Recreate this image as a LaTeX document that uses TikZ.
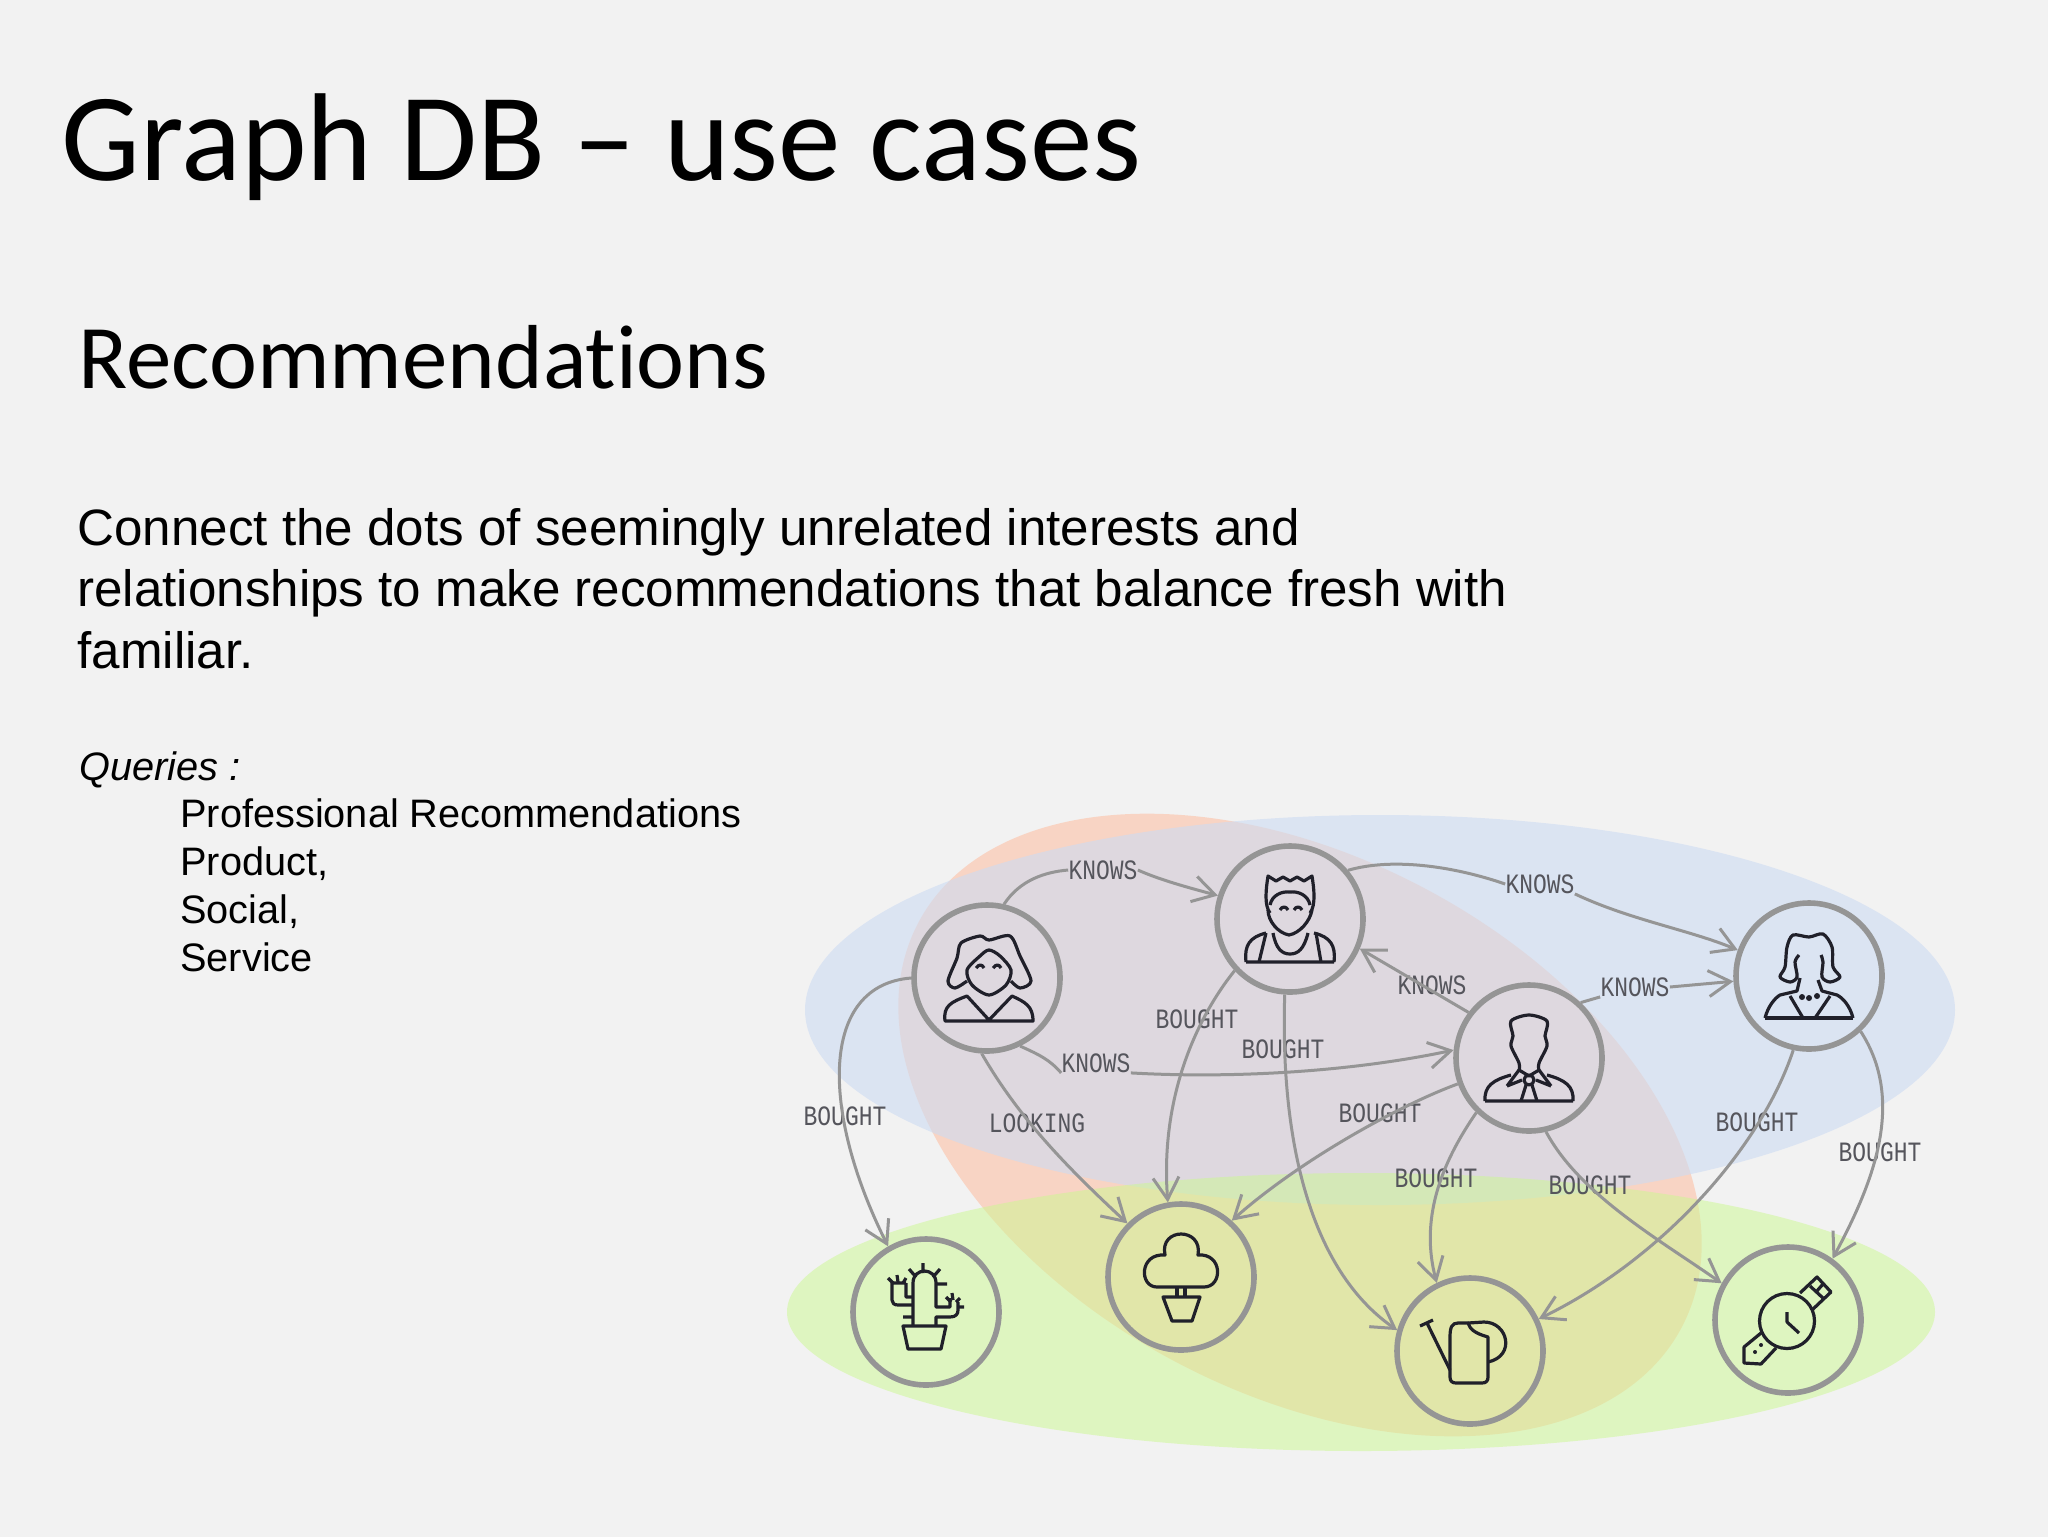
\documentclass[tikz,border=0pt]{standalone}
\usepackage{fontspec}
\setmainfont{Liberation Sans}
\newfontfamily\slidefont[Ligatures=NoCommon]{Carlito}
\newfontfamily\edgefont[FakeStretch=.82]{Liberation Mono}
\usetikzlibrary{arrows.meta}

\definecolor{slidebg}{HTML}{F2F2F2}
\definecolor{blobblue}{HTML}{CDDBF2}
\definecolor{bloborange}{HTML}{FFB898}
\definecolor{blobgreen}{HTML}{CCF890}
\definecolor{edgegray}{HTML}{959595}
\definecolor{labelgray}{HTML}{55555C}
\definecolor{icondark}{HTML}{20202A}

\tikzset{
  >={Straight Barb[length=11pt,width=13pt,line width=1.5pt]},
  item/.style={circle,draw=edgegray,line width=2.8pt,minimum size=73pt,inner sep=0pt},
  rel/.style={draw=edgegray,line width=1.5pt},
  rellabel/.style={font=\edgefont\fontsize{14}{14}\selectfont,text=labelgray,inner sep=0pt},
  icon/.style={draw=icondark,line width=1.6pt,line join=round}
}

\begin{document}
\begin{tikzpicture}[x=.5pt,y=-.5pt]

  \useasboundingbox (0,0) rectangle (2048,1536);
  \fill[slidebg] (-2,-2) rectangle (2050,1538);

  % texts
  \node[anchor=base west,inner sep=0pt,font=\slidefont\fontsize{62.5}{62.5}\selectfont] (title) at (61,180) {Graph DB – use cases};
  \node[anchor=base west,inner sep=0pt,font=\slidefont\fontsize{45.45}{45.45}\selectfont] (subtitle) at (78,388) {Recommendations};
  \node[anchor=north west,inner sep=0pt,align=left,font=\fontsize{25.57}{30.7}\selectfont] (intro) at (77,508)
    {Connect the dots of seemingly unrelated interests and\\
     relationships to make recommendations that balance fresh with\\
     familiar.};
  \node[anchor=base west,inner sep=0pt,font=\itshape\fontsize{19.86}{24}\selectfont] (queries) at (79,780) {Queries :};
  \node[anchor=north west,inner sep=0pt,align=left,font=\fontsize{19.86}{24}\selectfont] (kinds) at (180,798)
    {Professional Recommendations\\ Product,\\ Social,\\ Service};

  % the three sets
  \fill[opacity=.5,bloborange,shift={(1300,1125)},rotate=-28] (0,0) ellipse [x radius=432,y radius=267.5];
  \fill[opacity=.6,blobblue] (1380,1010) ellipse [x radius=575,y radius=195];
  \fill[opacity=.5,blobgreen] (1361,1312) ellipse [x radius=574,y radius=139];

  % people and products
  \node[item] (woman) at (987,978) {};
  \node[item] (man) at (1290,919) {};
  \node[item] (suit) at (1529,1058) {};
  \node[item] (lady) at (1809,976) {};
  \node[item] (cactus) at (926,1312) {};
  \node[item] (tree) at (1181,1277) {};
  \node[item] (can) at (1470,1351) {};
  \node[item] (watch) at (1788,1320) {};

  % labels
  \node[rellabel] (knowsA) at (1103,870) {KNOWS};
  \node[rellabel] (knowsB) at (1540,884) {KNOWS};
  \node[rellabel] (knowsC) at (1432,985) {KNOWS};
  \node[rellabel] (knowsD) at (1635,987) {KNOWS};
  \node[rellabel] (knowsE) at (1096,1063) {KNOWS};
  \node[rellabel] (boughtA) at (1197,1019) {BOUGHT};
  \node[rellabel] (boughtB) at (1283,1049) {BOUGHT};
  \node[rellabel] (boughtC) at (1380,1113) {BOUGHT};
  \node[rellabel] (boughtD) at (845,1116) {BOUGHT};
  \node[rellabel] (looking) at (1037,1123) {LOOKING};
  \node[rellabel] (boughtE) at (1436,1178) {BOUGHT};
  \node[rellabel] (boughtF) at (1590,1185) {BOUGHT};
  \node[rellabel] (boughtG) at (1757,1122) {BOUGHT};
  \node[rellabel] (boughtH) at (1880,1152) {BOUGHT};

  % knows
  \draw[rel] (woman.77) .. controls (1020,880) and (1045,872) .. (knowsA.west);
  \draw[rel,->] (knowsA.east) .. controls (1160,880) and (1190,888) .. (man.162);
  \draw[rel] (man.40) .. controls (1390,858) and (1450,865) .. (knowsB.west);
  \draw[rel,->] (knowsB.south east) .. controls (1630,920) and (1690,930) .. (lady.160);
  \draw[rel,->] (suit.143) -- (man.337);
  \draw[rel] (suit.47) -- (knowsD.south west);
  \draw[rel,->] (knowsD.east) -- (lady.184);
  \draw[rel] (woman.296) .. controls (1040,1055) and (1050,1060) .. (knowsE.south west);
  \draw[rel,->] (knowsE.south east) .. controls (1220,1078) and (1340,1074) .. (suit.174);

  % bought
  \draw[rel,->] (woman.180) .. controls (820,985) and (820,1110) .. (cactus.120);
  \draw[rel,->] (woman.266) .. controls (1020,1120) and (1070,1170) .. (tree.135);
  \draw[rel,->] (man.223) .. controls (1195,1020) and (1160,1100) .. (tree.100);
  \draw[rel,->] (man.266) .. controls (1280,1140) and (1310,1270) .. (can.164);
  \draw[rel,->] (suit.200) .. controls (1400,1105) and (1300,1160) .. (tree.48);
  \draw[rel,->] (suit.226) .. controls (1440,1165) and (1420,1220) .. (can.116);
  \draw[rel,->] (suit.283) .. controls (1580,1195) and (1660,1240) .. (watch.151);
  \draw[rel,->] (lady.258) .. controls (1760,1150) and (1660,1260) .. (can.25);
  \draw[rel,->] (lady.313) .. controls (1905,1100) and (1875,1180) .. (watch.54);

  % icons
  \begin{scope}[icon,shift={(woman.center)}]
    \draw plot[smooth] coordinates {(-20,3) (-32,10) (-39,3) (-30,-20) (-26,-35) (-7,-42) (2,-38) (23,-42) (33,-22) (44,3) (33,10) (24,3)};
    \draw plot[smooth cycle] coordinates {(-20,-8) (-7,-22) (2,-28) (13,-22) (24,-8) (19,7) (2,17) (-15,7)};
    \draw (-42,43) .. controls (-44,28) and (-36,24) .. (-20,18) -- (2,42) -- (25,18) .. controls (38,24) and (46,28) .. (46,43) -- cycle;
    \draw (-11,-10) .. controls (-8,-14) and (-5,-14) .. (-3,-10) (6,-10) .. controls (9,-14) and (12,-14) .. (14,-10);
  \end{scope}

  \begin{scope}[icon,shift={(man.center)}]
    \draw (-20,-6) .. controls (-26,-14) and (-24,-30) .. (-22,-43) -- (-14,-38) -- (-7,-42) -- (0,-38) -- (7,-42) -- (14,-38) -- (22,-43) .. controls (24,-30) and (26,-14) .. (20,-6);
    \draw (-20,-14) .. controls (-18,-24) and (-8,-28) .. (0,-27) .. controls (8,-28) and (18,-24) .. (20,-14);
    \draw (-22,-9) .. controls (-22,2) and (-12,14) .. (-1,16) .. controls (10,14) and (20,2) .. (22,-9);
    \draw (-44,43) .. controls (-46,26) and (-40,18) .. (-24,14) (44,43) .. controls (46,26) and (40,18) .. (24,14) (-44,43) -- (44,43);
    \draw (-24,14) -- (-31,43) (26,14) -- (31,43);
    \draw (-17,14) .. controls (-14,30) and (-8,35) .. (0,35) .. controls (8,35) and (14,30) .. (18,14);
    \draw (-10,-9) .. controls (-8,-13) and (-4,-13) .. (-2,-9) (4,-9) .. controls (6,-13) and (10,-13) .. (12,-9);
  \end{scope}

  \begin{scope}[icon,shift={(suit.center)}]
    \draw plot[smooth] coordinates {(-10,13) (-10,5) (-18,-12) (-16,-22) (-18,-37) (0,-43) (18,-37) (16,-22) (18,-12) (10,5) (10,13)};
    \draw (-44,43) .. controls (-45,28) and (-36,22) .. (-18,17) (44,43) .. controls (45,28) and (36,22) .. (18,17) (-44,43) -- (44,43);
    \draw (-22,28) -- (-10,12) -- (0,18) -- (10,12) -- (22,28) (-22,28) -- (-7,22) (7,22) -- (22,28);
    \draw (0,22) circle [radius=5];
    \draw (-8,43) -- (-3,27) (3,27) -- (8,43);
  \end{scope}

  \begin{scope}[icon,shift={(lady.center)}]
    \draw plot[smooth] coordinates {(-10,-21) (-14,-14) (-12,1) (-19,6) (-29,1) (-24,-9) (-22,-29) (-16,-41) (0,-39) (14,-42) (23,-29) (24,-9) (31,1) (21,6) (13,1) (14,-14) (12,-21)};
    \draw (-44,42) -- (44,42);
    \draw (-44,42) .. controls (-41,30) and (-34,22) .. (-29,19) -- (-12,15) -- (-9,2);
    \draw (44,42) .. controls (41,30) and (34,22) .. (28,19) -- (13,15) -- (9,4);
    \draw (-19,20) -- (-6,42) (21,20) -- (6,42);
    \fill[icondark] (-7,21) circle [radius=3] (0,22) circle [radius=3] (8,20) circle [radius=3];
  \end{scope}

  \begin{scope}[icon,shift={(cactus.center)}]
    \draw (-23,14) -- (20,14) -- (15,37) -- (-18,37) -- cycle;
    \draw (-13,13) -- (-13,-29) .. controls (-13,-45) and (10,-45) .. (10,-29) -- (10,-5) -- (24,-5) -- (24,-14);
    \draw (10,13) -- (10,5) -- (24,5) .. controls (30,5) and (32,2) .. (32,-2) -- (32,-10);
    \draw (-13,-15) -- (-20,-15) -- (-20,-29) (-13,-7) -- (-28,-7) .. controls (-32,-7) and (-34,-9) .. (-34,-12) -- (-34,-29) -- (-20,-29);
    \draw (-3,-49) -- (-3,-39) (-17,-43) -- (-10,-35) (14,-43) -- (7,-35) (10,-28) -- (21,-28) (-23,5) -- (-13,5);
    \draw (-38,-34) -- (-33,-29) (-29,-37) -- (-28,-30) (-20,-34) -- (-23,-29);
    \draw (20,-15) -- (25,-10) (26,-19) -- (27,-12) (34,-14) -- (30,-10) (38,-5) -- (32,-5);
  \end{scope}

  \begin{scope}[icon,shift={(tree.center)}]
    \draw (-24,10) .. controls (-42,10) and (-42,-24) .. (-16,-22) .. controls (-22,-50) and (22,-50) .. (17,-22) .. controls (42,-24) and (42,10) .. (23,10) -- cycle;
    \draw (-4,11) -- (-4,19) (4,11) -- (4,19);
    \draw (-18,20) -- (19,20) -- (11,44) -- (-9,44) -- cycle;
  \end{scope}

  \begin{scope}[icon,shift={(can.center)}]
    \draw (-20,-14) .. controls (-20,-24) and (-18,-28) .. (-12,-28) -- (-2,-28) .. controls (0,-22) and (4,-18) .. (18,-14) -- (18,26) .. controls (18,30) and (16,32) .. (12,32) -- (-14,32) .. controls (-18,32) and (-20,30) .. (-20,26) -- cycle;
    \draw (-2,-28) -- (14,-29) .. controls (38,-29) and (46,5) .. (18,11);
    \draw (-20,19) -- (-43,-28) (-50,-25) -- (-37,-31);
  \end{scope}

  \begin{scope}[icon,shift={(watch.center)}]
    \draw (-1,1) circle [radius=27.5];
    \draw (-1,-8) -- (-1,2) -- (11,13);
    \draw (12,-27) -- (29,-43) -- (43,-28) -- (24,-10);
    \draw (22,-34) -- (36,-21) (35,-36) -- (28,-28);
    \draw (-27,13) -- (-44,27) -- (-44,43) -- (-27,44) -- (-12,28);
    \fill[icondark] (-33,32) circle [radius=2] (-27,25) circle [radius=2];
  \end{scope}

\end{tikzpicture}
\end{document}
